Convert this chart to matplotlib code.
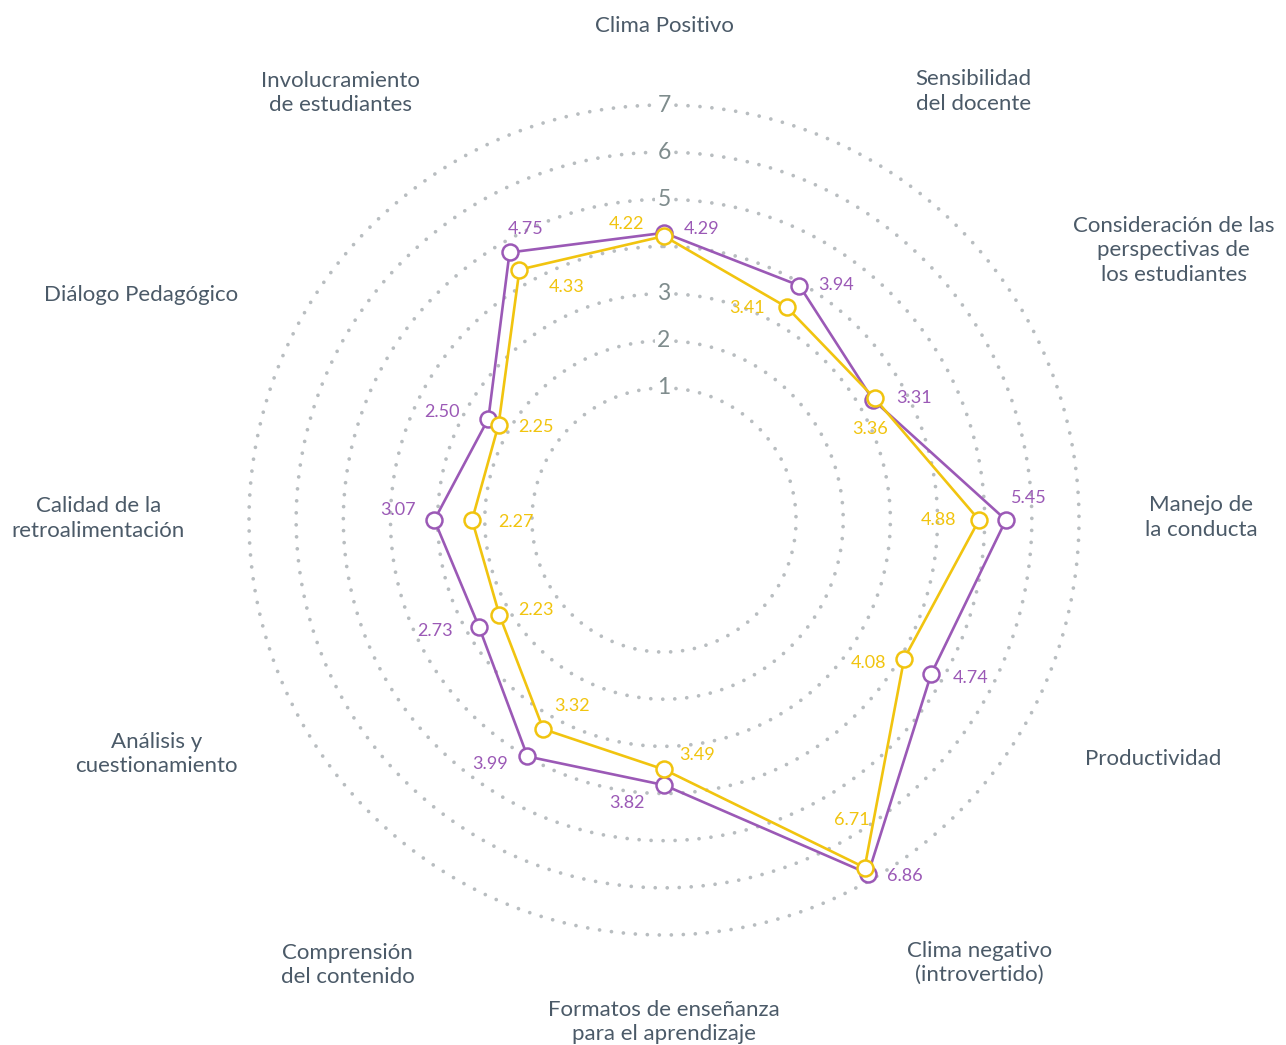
import numpy as np
import matplotlib
matplotlib.use('Agg')
import matplotlib.pyplot as plt

plt.rcParams['font.family'] = ['Lato', 'DejaVu Sans']

categories = [
    'Clima Positivo',
    'Sensibilidad\ndel docente',
    'Consideración de las\nperspectivas de\nlos estudiantes',
    'Manejo de\nla conducta',
    'Productividad',
    'Clima negativo\n(introvertido)',
    'Formatos de enseñanza\npara el aprendizaje',
    'Comprensión\ndel contenido',
    'Análisis y\ncuestionamiento',
    'Calidad de la\nretroalimentación',
    'Diálogo Pedagógico',
    'Involucramiento\nde estudiantes',
]
purple_vals = [4.29, 3.94, 3.31, 5.45, 4.74, 6.86, 3.82, 3.99, 2.73, 3.07, 2.50, 4.75]
yellow_vals = [4.22, 3.41, 3.36, 4.88, 4.08, 6.71, 3.49, 3.32, 2.23, 2.27, 2.25, 4.33]
ring_values = [1, 2, 3, 4, 5, 6, 7]
ring_labels = ['1', '2', '3', '', '5', '6', '7']

PURPLE = '#9b59b6'
YELLOW = '#f1c40f'
R_MIN, R_MAX = -1.8, 7

# value-label offsets in pixels (dx right, dy up), one per point
purple_off = [(38, 4), (37, 1), (41, 2), (23, 22), (40, -4), (37, -2),
              (-37, -18), (-37, -8), (-44, -4), (-36, 10), (-46, 7), (16, 23)]
yellow_off = [(-37, 12), (-40, -1), (-5, -31), (-41, 0), (-36, -4), (-13, 48),
              (33, 14), (29, 23), (37, 5), (44, -2), (37, -2), (47, -17)]

# category label anchors: (angle in degrees, distance in px, alignment)
label_pos = [(0, 494, 'center'), (30.4, 497, 'left'), (56.6, 490, 'left'),
             (89.7, 481, 'left'), (119.6, 484, 'left'), (151.3, 505, 'left'),
             (180, 502, 'center'), (209.3, 510, 'right'), (241.2, 486, 'right'),
             (270.2, 479, 'right'), (297.8, 482, 'right'), (330.2, 492, 'right')]


def do_plot():
    W, H = 1286, 1045
    fig = plt.figure(figsize=(W / 100, H / 100), dpi=100)
    cx, cy, rad = 664, 520, 415
    ax = fig.add_axes([(cx - rad) / W, (H - cy - rad) / H, 2 * rad / W, 2 * rad / H],
                      projection='polar')
    ax.set_theta_zero_location('N')
    ax.set_theta_direction(-1)
    ax.set_ylim(R_MIN, R_MAX)
    ax.grid(False)
    ax.spines['polar'].set_visible(False)
    ax.set_xticks([])
    ax.set_yticks([])
    px_per_unit = rad / (R_MAX - R_MIN)

    # dotted rings
    full = np.linspace(0, 2 * np.pi, 600)
    for v in ring_values:
        ax.plot(full, np.full_like(full, v), color='#b8bdc0', lw=2.7,
                linestyle=(0, (0.001, 3.2)), dash_capstyle='round', zorder=1,
                clip_on=False)

    for v, t in zip(ring_values, ring_labels):
        if t:
            ax.text(0, v, t, ha='center', va='center', fontsize=16.5, color='#7f8c8d',
                    zorder=2, bbox=dict(boxstyle='square,pad=0.1', fc='white', ec='none'))

    n = len(categories)
    angles = np.arange(n) * 2 * np.pi / n
    ang_closed = np.append(angles, angles[0])

    for vals, color in [(purple_vals, PURPLE), (yellow_vals, YELLOW)]:
        ax.plot(ang_closed, vals + vals[:1], color=color, lw=1.9, zorder=3,
                clip_on=False)
    for vals, color, offs, z in [(purple_vals, PURPLE, purple_off, 4),
                                 (yellow_vals, YELLOW, yellow_off, 5)]:
        ax.plot(angles, vals, 'o', ms=11.5, mfc='white', mec=color, mew=1.8,
                zorder=z, linestyle='none', clip_on=False)
        for a, v, (dx, dy) in zip(angles, vals, offs):
            ax.annotate('%.2f' % v, (a, v), xytext=(dx, dy), textcoords='offset pixels',
                        ha='center', va='center', fontsize=13, color=color, zorder=6)

    for name, (deg, dist, align) in zip(categories, label_pos):
        ax.text(np.deg2rad(deg), R_MIN + dist / px_per_unit, name, ha=align,
                va='center', multialignment='center', fontsize=16,
                color='#4b5a68', linespacing=1.28)

    fig.savefig('out.png', dpi=100, facecolor='white')


if __name__ == '__main__':
    do_plot()
